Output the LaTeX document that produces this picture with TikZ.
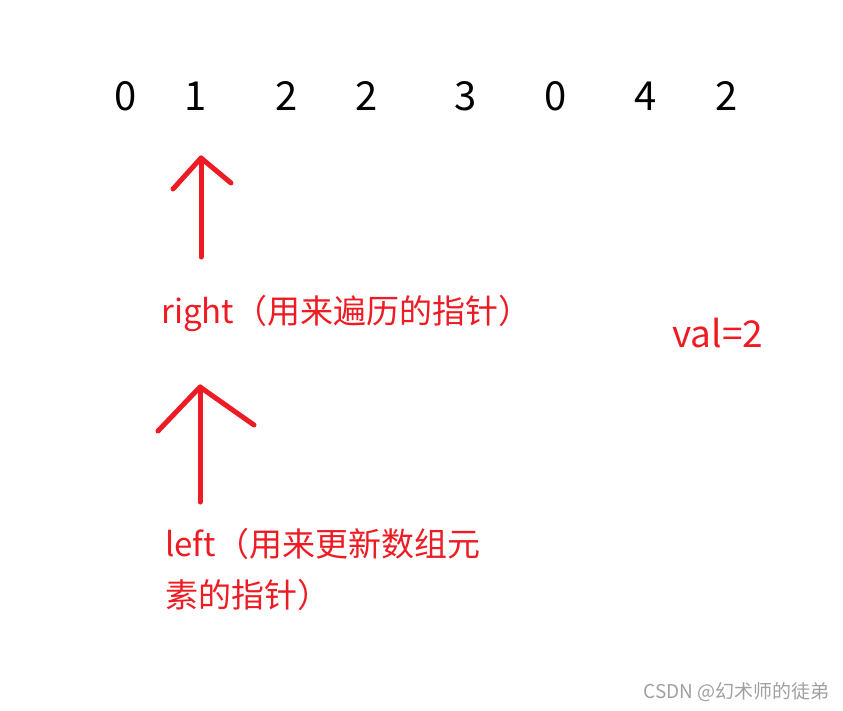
\documentclass[tikz,border=0pt]{standalone}
\usepackage{fontspec}
\setmainfont{Noto Sans CJK SC}
\definecolor{penred}{RGB}{237,28,36}
\definecolor{markgray}{RGB}{160,160,160}

\begin{document}
\begin{tikzpicture}[line cap=round,line join=round,x=1pt,y=-1pt,
  num/.style={inner sep=0pt,font=\fontsize{40}{48}\selectfont},
  lbl/.style={inner sep=0pt,anchor=west,text=penred,font=\fontsize{33}{51}\selectfont},
  pen/.style={draw=penred,line width=5pt}]
	\useasboundingbox (0,0) rectangle (843,710);
	% the array
	\foreach \v/\x [count=\i from 0] in {0/126,1/196,2/287,2/367,3/466,0/556,4/646,2/727}
		\node[num] (d\i) at (\x,96) {\v};
	% pointer right
	\coordinate (rtip) at (201,158);
	\coordinate (rfoot) at (201,257);
	\draw[pen] (rfoot) -- (rtip);
	\draw[pen] (rtip) ++(-28,31) -- (rtip) -- ++(30,25);
	\node[lbl] (rlbl) at (161,313) {right（用来遍历的指针）};
	% pointer left
	\coordinate (ltip) at (200,387);
	\coordinate (lfoot) at (200,502);
	\draw[pen] (lfoot) -- (ltip);
	\draw[pen] (ltip) ++(-42,44) -- (ltip) -- ++(54,38);
	\node[lbl,align=left,anchor=north west] (llbl) at (165,528) {left（用来更新数组元\\素的指针）};
	\node[lbl,font=\fontsize{37}{44}\selectfont] (val) at (672,333) {val=2};
	\node[inner sep=0pt,anchor=east,text=markgray,font=\fontsize{19}{22}\selectfont] (mark) at (830,692) {CSDN @幻术师的徒弟};
\end{tikzpicture}
\end{document}
